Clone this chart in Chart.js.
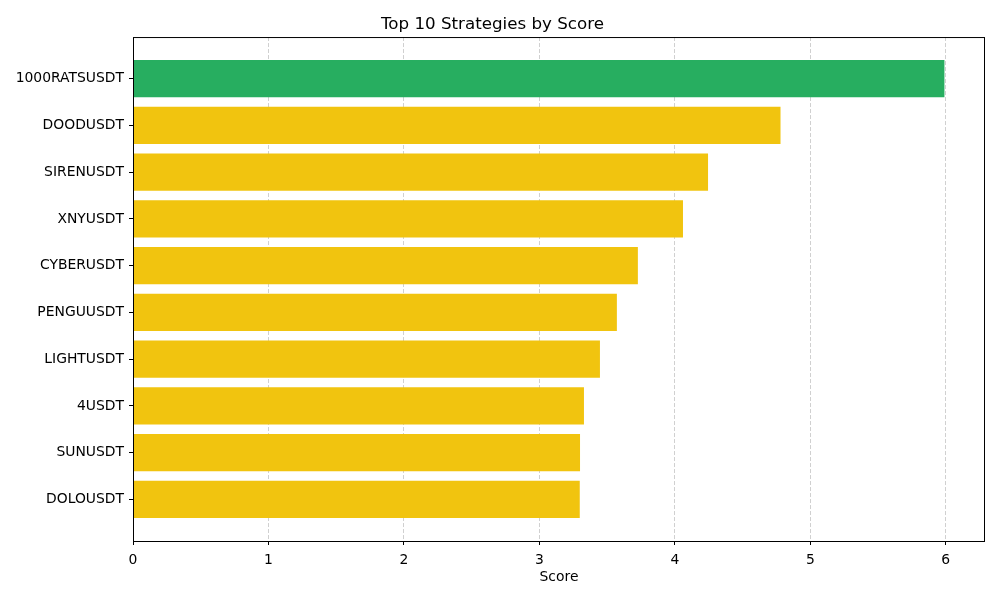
<!DOCTYPE html>
<html>
<head>
<meta charset="utf-8">
<script src="https://cdn.jsdelivr.net/npm/chart.js@4"></script>
<style>
    html, body { margin: 0; padding: 0; background: #ffffff; }
    #wrap { width: 1000px; height: 600px; }
</style>
</head>
<body>
<div id="wrap"><canvas id="scoreChart" width="1000" height="600"></canvas></div>
<script>
// Data
const strategies = ['1000RATSUSDT', 'DOODUSDT', 'SIRENUSDT', 'XNYUSDT', 'CYBERUSDT',
                    'PENGUUSDT', 'LIGHTUSDT', '4USDT', 'SUNUSDT', 'DOLOUSDT'];
const scores = [5.99, 4.78, 4.245, 4.06, 3.727, 3.572, 3.447, 3.329, 3.30, 3.298];
const xTicks = [0, 1, 2, 3, 4, 5, 6];

const topColor = '#27ae60';
const otherColor = '#f1c40f';
const fontFamily = '"DejaVu Sans", sans-serif';

// Axes frame on all four sides, like matplotlib spines
const framePlugin = {
    id: 'frame',
    afterDraw(chart) {
        const { ctx, chartArea } = chart;
        ctx.save();
        ctx.strokeStyle = '#000000';
        ctx.lineWidth = 1;
        ctx.strokeRect(chartArea.left + 0.5, chartArea.top + 0.5,
                       chartArea.right - chartArea.left - 1, chartArea.bottom - chartArea.top);
        ctx.restore();
    }
};

window.addEventListener('DOMContentLoaded', function() {
    const ctx = document.getElementById('scoreChart').getContext('2d');
    const maxScore = Math.max(...scores);
    const n = strategies.length;
    // matplotlib style 5% margins around the bar extents
    const ySpan = (n - 1) + 0.8;
    const yMargin = ySpan * 0.05;

    new Chart(ctx, {
        type: 'bar',
        data: {
            datasets: [{
                label: 'Score',
                data: scores.map((s, i) => ({ x: s, y: i })),
                backgroundColor: scores.map((s, i) => i === 0 ? topColor : otherColor),
                borderWidth: 0,
                barPercentage: 0.8,
                categoryPercentage: 1.0
            }]
        },
        options: {
            indexAxis: 'y',
            responsive: false,
            animation: false,
            layout: { padding: { left: 0, right: 15, top: 0, bottom: 0 } },
            plugins: {
                legend: { display: false },
                tooltip: { enabled: false },
                title: {
                    display: true,
                    text: 'Top 10 Strategies by Score',
                    color: '#000000',
                    font: { family: fontFamily, size: 16.7, weight: 'normal' },
                    padding: { top: 15, bottom: 2 }
                }
            },
            scales: {
                x: {
                    type: 'linear',
                    min: 0,
                    max: maxScore * 1.05,
                    offset: false,
                    z: 1,
                    afterBuildTicks: function(scale) {
                        scale.ticks = xTicks.map(v => ({ value: v }));
                    },
                    afterFit: function(scale) { scale.height = 59; },
                    grid: {
                        offset: false,
                        color: 'rgba(176,176,176,0.6)',
                        lineWidth: 1,
                        tickColor: '#000000',
                        tickLength: 4,
                        tickWidth: 1
                    },
                    border: { display: false, dash: [4, 2] },
                    ticks: {
                        color: '#000000',
                        padding: 7,
                        maxRotation: 0,
                        font: { family: fontFamily, size: 13.9 }
                    },
                    title: {
                        display: true,
                        text: 'Score',
                        color: '#000000',
                        font: { family: fontFamily, size: 13.9 },
                        padding: { top: 0, bottom: 14 }
                    }
                },
                y: {
                    type: 'linear',
                    reverse: true,
                    offset: false,
                    min: -0.4 - yMargin,
                    max: (n - 1) + 0.4 + yMargin,
                    afterBuildTicks: function(scale) {
                        scale.ticks = strategies.map((s, i) => ({ value: i }));
                    },
                    afterFit: function(scale) { scale.width = 133; },
                    grid: {
                        offset: false,
                        drawOnChartArea: false,
                        color: '#000000',
                        tickLength: 4,
                        tickWidth: 1
                    },
                    border: { display: false },
                    ticks: {
                        color: '#000000',
                        padding: 5,
                        autoSkip: false,
                        font: { family: fontFamily, size: 13.9 },
                        callback: function(value) {
                            return strategies[value] !== undefined ? strategies[value] : '';
                        }
                    }
                }
            }
        },
        plugins: [framePlugin]
    });
});
</script>
</body>
</html>
